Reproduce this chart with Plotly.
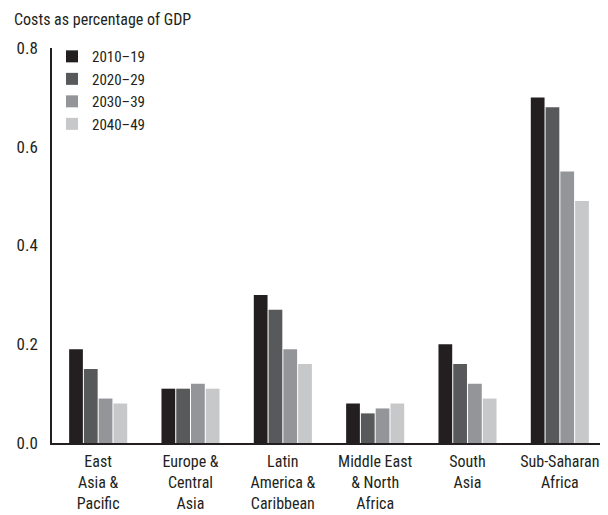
import plotly.graph_objects as go

categories = ["East<br>Asia &<br>Pacific", "Europe &<br>Central<br>Asia", "Latin<br>America &<br>Caribbean",
              "Middle East<br>& North<br>Africa", "South<br>Asia", "Sub-Saharan<br>Africa"]
series_names = ["2010–19", "2020–29", "2030–39", "2040–49"]
v2010 = [0.19, 0.11, 0.30, 0.08, 0.20, 0.70]
v2020 = [0.15, 0.11, 0.27, 0.06, 0.16, 0.68]
v2030 = [0.09, 0.12, 0.19, 0.07, 0.12, 0.55]
v2040 = [0.08, 0.11, 0.16, 0.08, 0.09, 0.49]
colors = ["#231f20", "#58595b", "#939598", "#c7c8ca"]
y_ticks = [0.0, 0.2, 0.4, 0.6, 0.8]

FONT = "Roboto Condensed, DejaVu Sans Condensed, sans-serif"

# the page body has an 8px default margin, so the figure is 8px smaller on each axis
W, H = 600, 507

fig = go.Figure()
for name, vals, col in zip(series_names, [v2010, v2020, v2030, v2040], colors):
    fig.add_trace(go.Bar(x=categories, y=vals, name=name, marker=dict(color=col, line=dict(width=0))))

fig.update_layout(
    width=W, height=H,
    margin=dict(l=44, r=2, t=40, b=72, pad=0),
    paper_bgcolor="white", plot_bgcolor="white",
    font=dict(family=FONT, size=16, color="#231f20"),
    barmode="group", bargap=0.36, bargroupgap=0.07,
    showlegend=True,
    legend=dict(x=0.0, y=1.02, xanchor="left", yanchor="top", bgcolor="rgba(0,0,0,0)",
                font=dict(size=15), tracegroupgap=0, itemwidth=30),
    title=dict(text="Costs as percentage of GDP", x=6/W, xanchor="left", xref="container",
               y=1 - 11/H, yanchor="middle", yref="container", font=dict(size=16)),
    xaxis=dict(showline=True, linecolor="#231f20", linewidth=1.5, ticks="outside", ticklen=3,
               tickcolor="rgba(0,0,0,0)", showgrid=False,
               zeroline=False, tickfont=dict(size=16), automargin=False),
    yaxis=dict(range=[0, 0.8], tickvals=y_ticks, tickformat=".1f", showline=True, linecolor="#231f20",
               linewidth=1.5, ticks="outside", ticklen=9, tickcolor="rgba(0,0,0,0)", showgrid=False,
               zeroline=False, tickfont=dict(size=17), automargin=False),
)

fig.write_html("out.html")
